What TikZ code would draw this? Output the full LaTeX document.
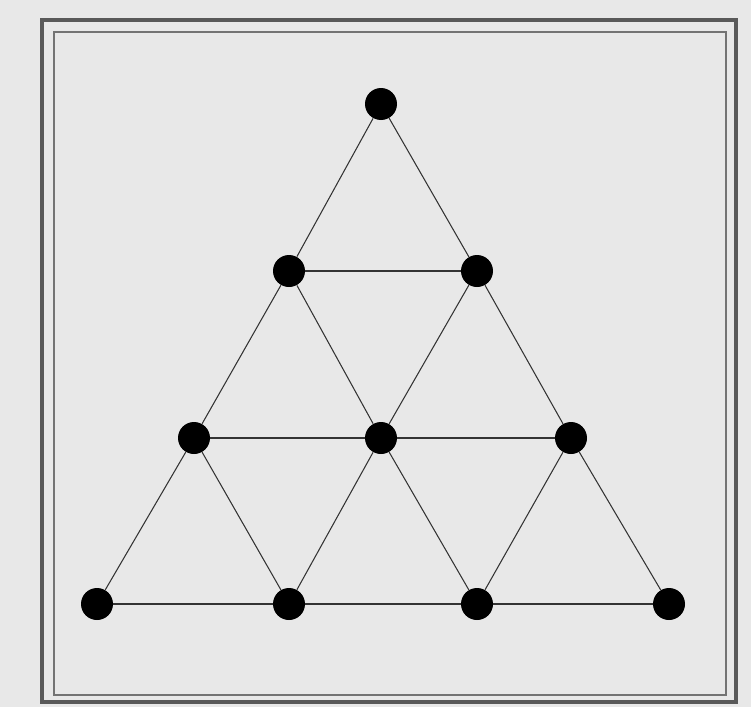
\documentclass[tikz,border=0pt]{standalone}
\usepackage{tikz}
\tikzstyle{dot} = [circle, minimum size=0.64cm, inner sep=0pt, fill=black, draw=none]
\tikzstyle{edge} = [draw=black!80, line width=0.6pt]
\tikzstyle{outerframe} = [draw=black!65, line width=1.8pt]
\tikzstyle{innerframe} = [draw=black!55, line width=1pt]

\begin{document}
\begin{tikzpicture}[x=0.02cm, y=-0.02cm]
        \fill[black!9] (0,0) rectangle (751,707);
        \useasboundingbox (0,0) rectangle (751,707);
        \draw [outerframe] (42,20) rectangle (736,702);
        \draw [innerframe] (54,32) rectangle (726,695);

        \node (top) [dot] at (381,104) {};
        \node (b1) [dot] at (289,271) {};
        \node (b2) [dot] at (477,271) {};
        \node (c1) [dot] at (194,438) {};
        \node (c2) [dot] at (381,438) {};
        \node (c3) [dot] at (571,438) {};
        \node (d1) [dot] at (97,604) {};
        \node (d2) [dot] at (289,604) {};
        \node (d3) [dot] at (477,604) {};
        \node (d4) [dot] at (669,604) {};

        \draw [edge] (top) -- (b1);
        \draw [edge] (top) -- (b2);
        \draw [edge] (b1) -- (b2);
        \draw [edge] (b1) -- (c1);
        \draw [edge] (b1) -- (c2);
        \draw [edge] (b2) -- (c2);
        \draw [edge] (b2) -- (c3);
        \draw [edge] (c1) -- (c2);
        \draw [edge] (c2) -- (c3);
        \draw [edge] (c1) -- (d1);
        \draw [edge] (c1) -- (d2);
        \draw [edge] (c2) -- (d2);
        \draw [edge] (c2) -- (d3);
        \draw [edge] (c3) -- (d3);
        \draw [edge] (c3) -- (d4);
        \draw [edge] (d1) -- (d2);
        \draw [edge] (d2) -- (d3);
        \draw [edge] (d3) -- (d4);
    \end{tikzpicture}
\end{document}
